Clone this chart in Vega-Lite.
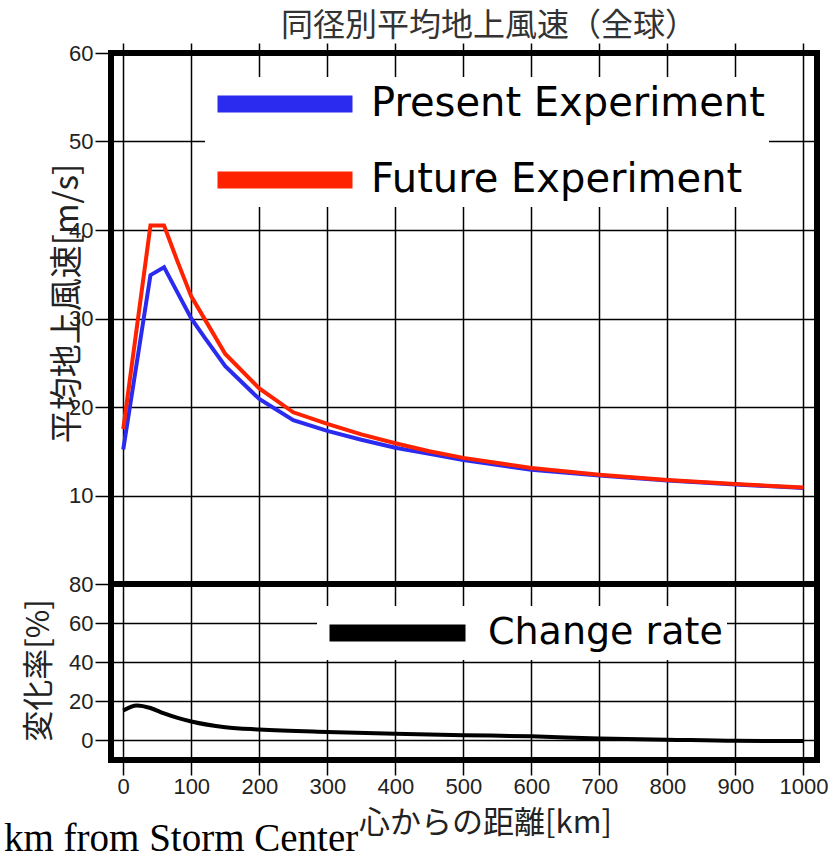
{
  "$schema": "https://vega.github.io/schema/vega-lite/v6.json",
  "padding": {"left": 1, "top": 7, "right": 0, "bottom": 0},
  "background": "white",
  "spacing": 0,
  "bounds": "flush",
  "config": {
    "view": {"stroke": "black", "strokeWidth": 6},
    "axis": {
      "gridColor": "black", "gridWidth": 1.5, "gridOpacity": 1,
      "tickColor": "black", "tickWidth": 1.5, "domain": false,
      "labelFont": "Liberation Sans", "labelFontSize": 22, "labelColor": "#222",
      "titleFont": "Noto Sans CJK JP", "titleFontSize": 31, "titleFontWeight": "normal", "titleColor": "#222"
    }
  },
  "datasets": {
    "speed": [
      {"km": 0, "series": "Present Experiment", "v": 15.2},
      {"km": 40, "series": "Present Experiment", "v": 34.9},
      {"km": 60, "series": "Present Experiment", "v": 35.8},
      {"km": 80, "series": "Present Experiment", "v": 32.9},
      {"km": 100, "series": "Present Experiment", "v": 30.0},
      {"km": 120, "series": "Present Experiment", "v": 27.8},
      {"km": 150, "series": "Present Experiment", "v": 24.6},
      {"km": 200, "series": "Present Experiment", "v": 20.9},
      {"km": 250, "series": "Present Experiment", "v": 18.5},
      {"km": 300, "series": "Present Experiment", "v": 17.3},
      {"km": 350, "series": "Present Experiment", "v": 16.3},
      {"km": 400, "series": "Present Experiment", "v": 15.4},
      {"km": 450, "series": "Present Experiment", "v": 14.7},
      {"km": 500, "series": "Present Experiment", "v": 14.0},
      {"km": 600, "series": "Present Experiment", "v": 12.9},
      {"km": 700, "series": "Present Experiment", "v": 12.25},
      {"km": 800, "series": "Present Experiment", "v": 11.7},
      {"km": 900, "series": "Present Experiment", "v": 11.25},
      {"km": 1000, "series": "Present Experiment", "v": 10.85},
      {"km": 0, "series": "Future Experiment", "v": 17.5},
      {"km": 40, "series": "Future Experiment", "v": 40.5},
      {"km": 60, "series": "Future Experiment", "v": 40.5},
      {"km": 80, "series": "Future Experiment", "v": 36.4},
      {"km": 100, "series": "Future Experiment", "v": 32.5},
      {"km": 120, "series": "Future Experiment", "v": 29.9},
      {"km": 150, "series": "Future Experiment", "v": 26.0},
      {"km": 200, "series": "Future Experiment", "v": 22.1},
      {"km": 250, "series": "Future Experiment", "v": 19.4},
      {"km": 300, "series": "Future Experiment", "v": 18.1},
      {"km": 350, "series": "Future Experiment", "v": 16.9},
      {"km": 400, "series": "Future Experiment", "v": 15.9},
      {"km": 450, "series": "Future Experiment", "v": 15.0},
      {"km": 500, "series": "Future Experiment", "v": 14.25},
      {"km": 600, "series": "Future Experiment", "v": 13.1},
      {"km": 700, "series": "Future Experiment", "v": 12.35},
      {"km": 800, "series": "Future Experiment", "v": 11.75},
      {"km": 900, "series": "Future Experiment", "v": 11.3},
      {"km": 1000, "series": "Future Experiment", "v": 10.9}
    ],
    "rate": [
      {"km": 0, "series": "Change rate", "r": 15.3},
      {"km": 20, "series": "Change rate", "r": 17.9},
      {"km": 40, "series": "Change rate", "r": 16.6},
      {"km": 60, "series": "Change rate", "r": 13.8},
      {"km": 80, "series": "Change rate", "r": 11.5},
      {"km": 100, "series": "Change rate", "r": 9.7},
      {"km": 150, "series": "Change rate", "r": 6.8},
      {"km": 200, "series": "Change rate", "r": 5.6},
      {"km": 300, "series": "Change rate", "r": 4.3},
      {"km": 400, "series": "Change rate", "r": 3.4},
      {"km": 500, "series": "Change rate", "r": 2.7},
      {"km": 600, "series": "Change rate", "r": 2.1},
      {"km": 700, "series": "Change rate", "r": 1.0},
      {"km": 800, "series": "Change rate", "r": 0.4},
      {"km": 900, "series": "Change rate", "r": -0.2},
      {"km": 1000, "series": "Change rate", "r": -0.3}
    ]
  },
  "vconcat": [
    {
      "width": 706,
      "height": 531,
      "title": {"text": "同径別平均地上風速（全球）", "font": "Noto Sans CJK JP", "fontSize": 32, "fontWeight": "normal", "color": "#333", "anchor": "middle", "frame": "group", "dx": 25, "offset": -1},
      "data": {"name": "speed"},
      "mark": {"type": "line", "strokeWidth": 4},
      "encoding": {
        "x": {
          "field": "km", "type": "quantitative",
          "scale": {"domain": [-18, 1020], "nice": false, "zero": false},
          "axis": {"orient": "top", "labels": false, "tickSize": 10, "values": [0, 100, 200, 300, 400, 500, 600, 700, 800, 900, 1000], "title": null, "grid": true}
        },
        "y": {
          "field": "v", "type": "quantitative",
          "scale": {"domain": [0, 60], "nice": false, "zero": false},
          "axis": {"values": [10, 20, 30, 40, 50, 60], "tickSize": 16, "labelPadding": 2, "title": "平均地上風速[m/s]", "titleFontSize": 33, "titleX": -44, "titleY": 250, "titleAlign": "center", "titleBaseline": "middle", "grid": true}
        },
        "color": {
          "field": "series", "type": "nominal",
          "scale": {"domain": ["Present Experiment", "Future Experiment"], "range": ["#2b2bf0", "#ff2200"]},
          "legend": {"orient": "none", "legendX": 94, "legendY": 24, "title": null, "symbolType": "stroke", "symbolSize": 18225, "symbolStrokeWidth": 17, "clipHeight": 46, "rowPadding": 30, "labelFont": "DejaVu Sans", "labelFontSize": 40, "labelColor": "black", "labelOffset": 10, "labelLimit": 0, "fillColor": "white", "padding": 4}
        }
      }
    },
    {
      "width": 706,
      "height": 176,
      "title": {"text": "km from Storm Center", "orient": "bottom", "anchor": "start", "frame": "group", "font": "Liberation Serif", "fontSize": 39, "fontWeight": "normal", "color": "black", "dx": -107, "offset": -18},
      "data": {"name": "rate"},
      "mark": {"type": "line", "strokeWidth": 4, "interpolate": "monotone"},
      "encoding": {
        "x": {
          "field": "km", "type": "quantitative",
          "scale": {"domain": [-18, 1020], "nice": false, "zero": false},
          "axis": {"orient": "bottom", "format": "d", "values": [0, 100, 200, 300, 400, 500, 600, 700, 800, 900, 1000], "tickSize": 15, "labelPadding": 1, "title": "心からの距離[km]", "titleX": 374, "titleY": 63, "titleAlign": "center", "titleBaseline": "middle", "grid": true}
        },
        "y": {
          "field": "r", "type": "quantitative",
          "scale": {"domain": [-10, 80], "nice": false, "zero": false},
          "axis": {"values": [0, 20, 40, 60, 80], "tickSize": 16, "labelPadding": 2, "title": "変化率[%]", "titleX": -72, "titleY": 86, "titleAlign": "center", "titleBaseline": "middle", "grid": true}
        },
        "color": {
          "field": "series", "type": "nominal",
          "scale": {"domain": ["Change rate"], "range": ["black"]},
          "legend": {"orient": "none", "legendX": 206, "legendY": 22, "title": null, "symbolType": "stroke", "symbolSize": 18496, "symbolStrokeWidth": 17, "clipHeight": 46, "labelFont": "DejaVu Sans", "labelFontSize": 38, "labelColor": "black", "labelOffset": 14, "labelLimit": 0, "fillColor": "white", "padding": 4}
        }
      }
    }
  ],
  "resolve": {"scale": {"color": "independent"}, "legend": {"color": "independent"}}
}
